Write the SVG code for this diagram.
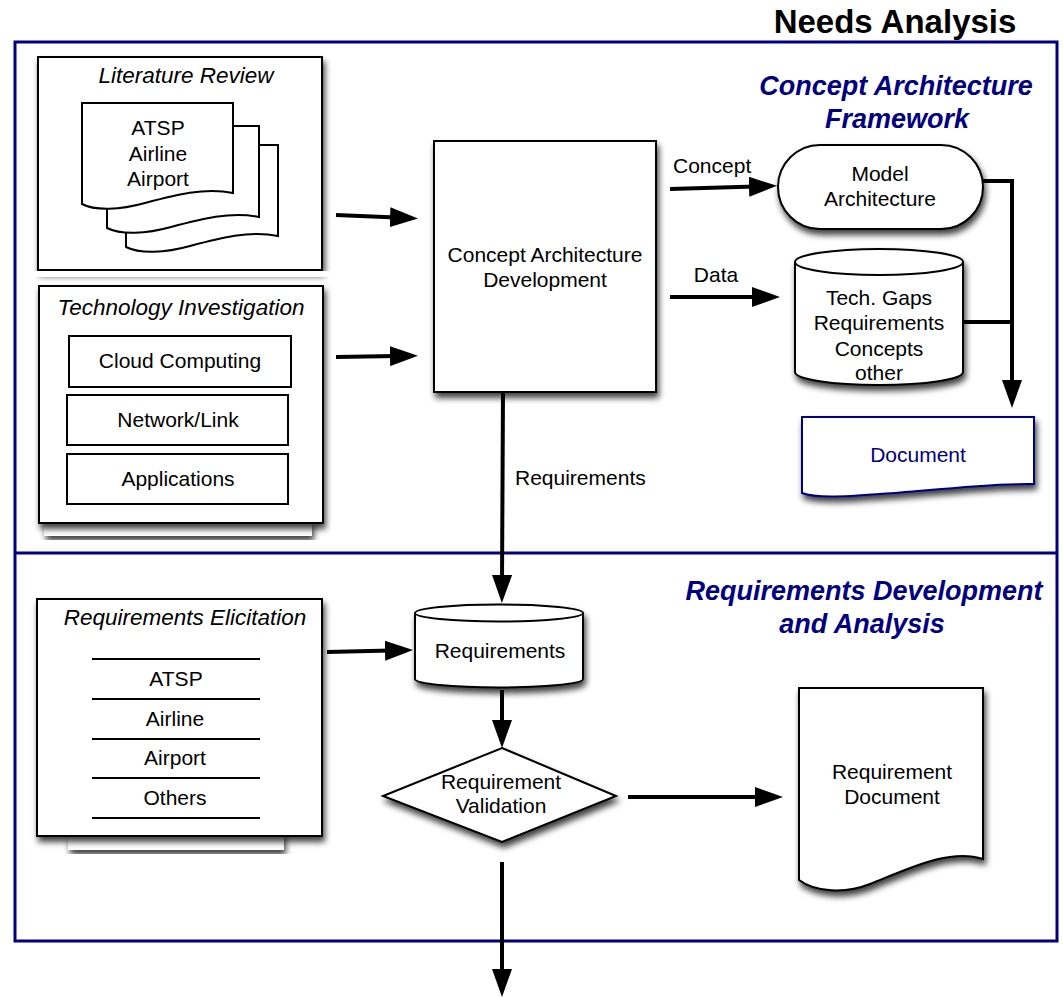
<svg xmlns="http://www.w3.org/2000/svg" width="1063" height="997" viewBox="0 0 1063 997">
<style>
text{font-family:"Liberation Sans",Arial,sans-serif;font-size:21px;fill:#000;text-anchor:middle}
.it{font-style:italic;font-size:22.5px}
.hd{font-weight:bold;font-style:italic;font-size:27px;fill:#000080}
.title{font-weight:bold;font-size:33px}
.shape{fill:#fff;stroke:#000;stroke-width:2}
.box{fill:#fff;stroke:#000;stroke-width:2;filter:url(#sh)}
.conn{fill:none;stroke:#000;stroke-width:4}
.arr{marker-end:url(#ah)}
.sep{stroke:#000;stroke-width:2}
.frame{fill:none;stroke:#000080;stroke-width:3}
</style>
<defs>
<filter id="sh" x="-10%" y="-10%" width="130%" height="130%">
<feGaussianBlur in="SourceAlpha" stdDeviation="3"/>
<feOffset dx="2" dy="5" result="o"/>
<feComponentTransfer><feFuncA type="linear" slope="0.75"/></feComponentTransfer>
<feMerge><feMergeNode/><feMergeNode in="SourceGraphic"/></feMerge>
</filter>
<marker id="ah" markerUnits="userSpaceOnUse" markerWidth="28" markerHeight="20" refX="6" refY="10" orient="auto">
<path d="M0,0 L28,10 L0,20 z" fill="#000"/>
</marker>
</defs>
<rect width="1063" height="997" fill="#fff"/>
<text class="title" x="895" y="33">Needs Analysis</text>
<g id="frame">
<rect class="frame" x="15" y="42" width="1042" height="899"/>
<line x1="15" y1="553" x2="1057" y2="553" stroke="#000080" stroke-width="3"/>
<text class="hd" x="896" y="95">Concept Architecture</text>
<text class="hd" x="897" y="128">Framework</text>
<text class="hd" x="864" y="600">Requirements Development</text>
<text class="hd" x="862" y="633">and Analysis</text>
</g>
<g id="literature-review">
<rect class="box" x="38" y="57" width="284" height="213"/>
<rect x="22" y="271" width="312" height="6" fill="#fff"/>
<text class="it" x="186" y="83">Literature Review</text>
<path class="shape" d="M126,145 H278 V236 C250,230 220,238 190,246 C165,253 140,254 126,247 Z"/>
<path class="shape" d="M107,126 H259 V217 C231,211 201,219 171,227 C146,234 121,235 107,228 Z"/>
<path class="shape" d="M82,103 H233 V193 C205,187 175,195 145,203 C120,210 95,211 82,204 Z"/>
<text x="158" y="135">ATSP</text>
<text x="158" y="161">Airline</text>
<text x="158" y="186">Airport</text>
</g>
<g id="technology-investigation">
<rect x="44" y="520" width="268" height="16" fill="#fff" filter="url(#sh)"/>
<rect class="box" x="39" y="286" width="284" height="237"/>
<text class="it" x="181" y="315">Technology Investigation</text>
<rect class="shape" x="69" y="336" width="222" height="51"/>
<text x="180" y="368">Cloud Computing</text>
<rect class="shape" x="67" y="395" width="221" height="50"/>
<text x="178" y="427">Network/Link</text>
<rect class="shape" x="67" y="454" width="221" height="50"/>
<text x="178" y="486">Applications</text>
</g>
<g id="concept-architecture-development">
<rect class="box" x="434" y="141" width="222" height="251"/>
<text x="545" y="262">Concept Architecture</text>
<text x="545" y="287">Development</text>
</g>
<g id="model-architecture">
<rect class="box" x="778" y="145" width="205" height="84" rx="42" ry="42"/>
<text x="880" y="181">Model</text>
<text x="880" y="206">Architecture</text>
</g>
<g id="tech-gaps">
<path class="box" d="M795,262 A84,13 0 0 1 963,262 V372 A84,13 0 0 1 795,372 Z"/>
<path fill="none" stroke="#000" stroke-width="2" d="M795,262 A84,13 0 0 0 963,262"/>
<text x="879" y="305">Tech. Gaps</text>
<text x="879" y="330">Requirements</text>
<text x="879" y="356">Concepts</text>
<text x="879" y="380">other</text>
</g>
<g id="document">
<path fill="#fff" stroke="#000080" stroke-width="2" filter="url(#sh)" d="M802,417 H1034 V484 C990,483 940,490 880,494 C840,497 815,498 802,493 Z"/>
<text x="918" y="462" style="fill:#000080">Document</text>
</g>
<g id="requirements-elicitation">
<rect x="68" y="832" width="216" height="18" fill="#fff" filter="url(#sh)"/>
<rect class="box" x="37" y="599" width="285" height="237"/>
<text class="it" x="185" y="625">Requirements Elicitation</text>
<line class="sep" x1="92" y1="659" x2="260" y2="659"/>
<line class="sep" x1="92" y1="699" x2="260" y2="699"/>
<line class="sep" x1="92" y1="739" x2="260" y2="739"/>
<line class="sep" x1="92" y1="778" x2="260" y2="778"/>
<line class="sep" x1="92" y1="818" x2="260" y2="818"/>
<text x="176" y="686">ATSP</text>
<text x="175" y="726">Airline</text>
<text x="175" y="765">Airport</text>
<text x="175" y="805">Others</text>
</g>
<g id="requirements-store">
<path class="box" d="M415,613 A84,8.5 0 0 1 583,613 V679 A84,8.5 0 0 1 415,679 Z"/>
<path fill="none" stroke="#000" stroke-width="2" d="M415,613 A84,8.5 0 0 0 583,613"/>
<text x="500" y="658">Requirements</text>
</g>
<g id="requirement-validation">
<polygon class="box" points="502,748 616,796 502,842 383,796"/>
<text x="501" y="789">Requirement</text>
<text x="501" y="813">Validation</text>
</g>
<g id="requirement-document">
<path class="box" d="M799,688 H983 V859 C950,848 910,868 870,884 C845,894 815,892 799,880 Z"/>
<text x="892" y="779">Requirement</text>
<text x="892" y="804">Document</text>
</g>
<g id="connectors">
<path class="conn arr" d="M336,215 L396,217.5"/>
<path class="conn arr" d="M336,357 L396,356"/>
<path class="conn arr" d="M670,189 L755,186.5"/>
<text x="673" y="173" style="text-anchor:start">Concept</text>
<path class="conn arr" d="M670,297 L758,297"/>
<text x="716" y="282">Data</text>
<path class="conn arr" d="M983,181 H1012 V386"/>
<path class="conn" d="M962,322 H1012"/>
<path class="conn arr" d="M503,392 L502,581"/>
<text x="515" y="485" style="text-anchor:start">Requirements</text>
<path class="conn arr" d="M327,652 L391,650.5"/>
<path class="conn arr" d="M502,690 V726"/>
<path class="conn arr" d="M628,797 H761"/>
<path class="conn arr" d="M502,862 V975"/>
</g>
</svg>
